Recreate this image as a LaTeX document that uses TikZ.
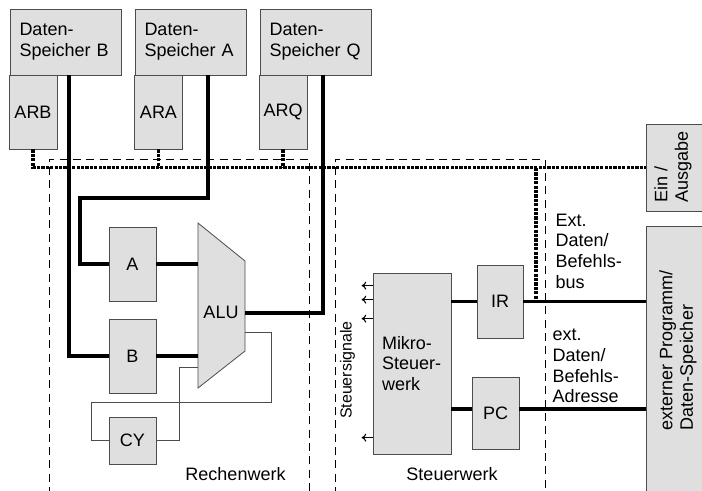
\documentclass[tikz,border=0pt]{standalone}
\usepackage{fontspec}
\setmainfont{Liberation Sans}
\usetikzlibrary{positioning,arrows.meta,calc}

\begin{document}
\begin{tikzpicture}[
  x=0.75pt, y=-0.75pt,
  font=\fontsize{13.5}{15.5}\selectfont,
  unitbox/.style={draw=black!70, fill=gray!25, line width=0.6pt, inner sep=0pt},
  membox/.style={unitbox, minimum width=83.25pt, minimum height=49.5pt,
                 text width=69pt, inner xsep=7.125pt, align=left},
  regbox/.style={unitbox, minimum width=35.25pt, minimum height=55.5pt},
  bus/.style={line width=2.3pt},
  addrbus/.style={line width=2.4pt, dash pattern=on 2.4pt off 0.9pt},
  frame/.style={line width=0.6pt, dash pattern=on 6pt off 4pt},
  wire/.style={draw=black!70, line width=0.75pt},
  sig/.style={line width=0.8pt, -{To[length=3.5pt,width=6pt]}}
]
\useasboundingbox (0,0) rectangle (702,490);

% Datenspeicher
\node[membox] (SpB) at (65.5,42) {Daten-\\Speicher B};
\node[membox] (SpA) at (190.5,42) {Daten-\\Speicher A};
\node[membox] (SpQ) at (315.5,42) {Daten-\\Speicher Q};

% Adressregister
\node[unitbox, minimum width=36pt, minimum height=55.5pt] (ARB) at (33,112) {ARB};
\node[unitbox, minimum width=36pt, minimum height=55.5pt] (ARA) at (158.5,112) {ARA};
\node[unitbox, minimum width=36pt, minimum height=55.5pt] (ARQ) at (283,112) {ARQ};

% Rechenwerk
\node[regbox] (A) at (132.5,264) {A};
\node[regbox] (B) at (132.5,356) {B};
\node[regbox, minimum height=35.25pt] (CY) at (132.5,440.5) {CY};

\coordinate (alu-nw) at (198,223);
\coordinate (alu-ne) at (245,261);
\coordinate (alu-se) at (245,351);
\coordinate (alu-sw) at (198,388);
\draw[unitbox] (alu-nw) -- (alu-ne) -- (alu-se) -- (alu-sw) -- cycle;
\node (alu) at (221,312) {ALU};
\coordinate (alu-out) at (245,313);
\coordinate (alu-cout) at (245,332);
\coordinate (alu-cin) at (198,367);

\node (rw) at (235.5,474) {Rechenwerk};

% Steuerwerk
\node[unitbox, minimum height=135.75pt, text width=45pt, inner xsep=6.75pt,
      align=left] (Mikro) at (412,363.5) {Mikro-\\Steuer-\\werk};
\node[unitbox, minimum width=34.5pt, minimum height=54.75pt] (IR) at (500,301.5) {IR};
\node[unitbox, minimum width=35.25pt, minimum height=54pt] (PC) at (495.5,413) {PC};
\node[rotate=90, font=\fontsize{12}{14}\selectfont] (sig) at (347.5,370) {Steuersignale};

\node (sw) at (452,474) {Steuerwerk};

% Peripherie
\node[unitbox, minimum width=49.5pt, minimum height=65.25pt] (io) at (679,167.5) {};
\node[rotate=90, align=left] (iolabel) at (673,167) {Ein /\\Ausgabe};
\node[unitbox, minimum width=49.5pt, minimum height=205.5pt] (ext) at (679,363) {};
\node[rotate=90, align=left] (extlabel) at (678,350) {externer Programm/\\Daten-Speicher};

\node[anchor=west, align=left] (extbus) at (551,251) {Ext.\\Daten/\\Befehls-\\bus};
\node[anchor=west, align=left] (extadr) at (548,366) {ext.\\Daten/\\Befehls-\\Adresse};

% Rahmen
\draw[frame] (49,495) |- (309,159) -- (309,495);
\draw[frame] (335,495) |- (545,159) -- (545,495);

% Adressbus
\draw[addrbus] (ARB.south) |- (io.west);
\draw[addrbus] (ARA.south) -- (ARA.south |- io.west);
\draw[addrbus] (ARQ.south) -- (ARQ.south |- io.west);
\coordinate (tap) at (536,168);
\draw[addrbus] (tap) -- (tap |- IR.east);

% Datenwege
\coordinate (bendA) at (80,198);
\draw[bus] ([xshift=2.6pt]SpB.south) |- (B.west);
\draw[bus] ([xshift=13.1pt]SpA.south) |- (bendA) |- (A.west);
\draw[bus] (A.east) -- (A.east -| alu-nw);
\draw[bus] (B.east) -- (B.east -| alu-nw);
\draw[bus] (alu-out) -| ([xshift=5.6pt]SpQ.south);

\draw[wire] (alu-cout) -| (271,402) -| ([xshift=-12.75pt]CY.west) -- (CY.west);
\draw[wire] (CY.east) -| (179,367) -- (alu-cin);

\coordinate (pcin) at ([yshift=3pt]PC.west);
\coordinate (pcout) at ([yshift=3pt]PC.east);
\draw[bus] (Mikro.east |- IR.west) -- (IR.west);
\draw[bus] (IR.east) -- (IR.east -| ext.west);
\draw[bus] (Mikro.east |- pcin) -- (pcin);
\draw[bus] (pcout) -- (pcout -| ext.west);

% Steuersignale
\foreach \dy in {13,27,46,165}
  \draw[sig] ($(Mikro.north west)+(0,\dy)$) -- ++(-11,0);

\end{tikzpicture}
\end{document}
